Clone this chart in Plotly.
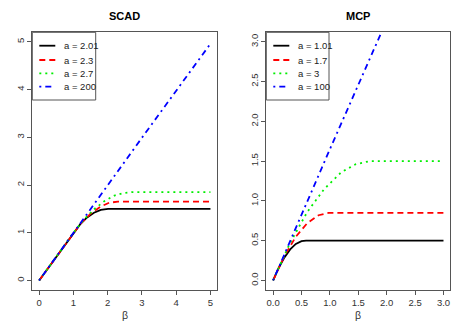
import plotly.graph_objects as go

# SCAD panel
scad_labels = ["a = 2.01", "a = 2.3", "a = 2.7", "a = 200"]
scad_x = [
    [0, 1.0, 1.2, 1.4, 1.6, 1.8, 2.01, 5],
    [0, 1.0, 1.2, 1.5, 1.8, 2.05, 2.3, 5],
    [0, 1.0, 1.3, 1.6, 1.9, 2.2, 2.45, 2.7, 5],
    [0, 1.0, 3.0, 5],
]
scad_y = [
    [0, 1.0, 1.18, 1.32, 1.42, 1.48, 1.5, 1.5],
    [0, 1.0, 1.18, 1.4, 1.55, 1.63, 1.65, 1.65],
    [0, 1.0, 1.27, 1.49, 1.66, 1.78, 1.83, 1.85, 1.85],
    [0, 1.0, 2.99, 4.96],
]

# MCP panel
mcp_labels = ["a = 1.01", "a = 1.7", "a = 3", "a = 100"]
mcp_x = [
    [0, 0.1, 0.2, 0.3, 0.4, 0.5, 0.58, 3],
    [0, 0.2, 0.4, 0.6, 0.8, 0.98, 3],
    [0, 0.3, 0.6, 0.9, 1.2, 1.45, 1.7, 3],
    [0, 1.0, 2.0, 3.0],
]
mcp_y = [
    [0, 0.16, 0.29, 0.39, 0.46, 0.495, 0.5, 0.5],
    [0, 0.31, 0.55, 0.72, 0.82, 0.85, 0.85],
    [0, 0.475, 0.86, 1.15, 1.36, 1.46, 1.5, 1.5],
    [0, 1.65, 3.27, 4.87],
]

colors = ["black", "red", "#00ee00", "blue"]
dashes = ["solid", "6px,4px", "2px,4px", "2px,4px,6px,4px"]

FONT = "Liberation Sans, Arial, sans-serif"
W, H = 467, 331


def px(x):
    return x / W


def py(y):
    return 1 - y / H


fig = go.Figure()
for i in range(4):
    fig.add_trace(go.Scatter(x=scad_x[i], y=scad_y[i], mode="lines", name=scad_labels[i],
                             line=dict(color=colors[i], width=1.8, dash=dashes[i]),
                             xaxis="x", yaxis="y"))
for i in range(4):
    fig.add_trace(go.Scatter(x=mcp_x[i], y=mcp_y[i], mode="lines", name=mcp_labels[i],
                             line=dict(color=colors[i], width=1.8, dash=dashes[i]),
                             xaxis="x2", yaxis="y2"))

ax = dict(showgrid=False, zeroline=False, showline=True, mirror=True, linecolor="#555",
          linewidth=1, ticks="outside", ticklen=4, tickcolor="#555",
          tickfont=dict(family=FONT, size=9.5, color="#333"))

shapes = []
annotations = []
# hand-drawn legends in the top-left corner of each panel, R style
for left, right, labels in [(32.3, 95.7, scad_labels), (266.3, 329, mcp_labels)]:
    shapes.append(dict(type="rect", xref="paper", yref="paper", x0=px(left), x1=px(right),
                       y0=py(100), y1=py(32.3), line=dict(color="#555", width=1),
                       fillcolor="white", layer="above"))
    for i, lab in enumerate(labels):
        yy = [45.7, 60, 73.3, 86.7][i]
        shapes.append(dict(type="line", xref="paper", yref="paper", x0=px(left + 7),
                           x1=px(left + 23), y0=py(yy), y1=py(yy), layer="above",
                           line=dict(color=colors[i], width=1.8, dash=dashes[i])))
        annotations.append(dict(text=lab, x=px(left + 29.5), y=py(yy), xref="paper",
                                yref="paper", xanchor="left", yanchor="middle",
                                showarrow=False,
                                font=dict(size=9.5, family=FONT, color="#222")))

for cx, title in [(124.8, "SCAD"), (358.3, "MCP")]:
    annotations.append(dict(text="<b>%s</b>" % title, x=px(cx), y=py(16), xref="paper",
                            yref="paper", xanchor="center", yanchor="middle",
                            showarrow=False, font=dict(size=11, family=FONT, color="black")))
    annotations.append(dict(text="β", x=px(cx), y=py(315), xref="paper", yref="paper",
                            xanchor="center", yanchor="middle", showarrow=False,
                            font=dict(size=10.5, family=FONT, color="#333")))

fig.update_layout(
    width=W, height=H,
    margin=dict(l=0, r=0, t=0, b=0),
    paper_bgcolor="white", plot_bgcolor="white",
    font=dict(family=FONT, color="#222"),
    showlegend=False,
    xaxis=dict(ax, domain=[px(32.3), px(217.3)], range=[-0.2, 5.2],
               tickvals=[0, 1, 2, 3, 4, 5], anchor="y"),
    yaxis=dict(ax, domain=[py(290), py(32.3)], range=[-0.2, 5.2],
               tickvals=[0, 1, 2, 3, 4, 5], tickangle=-90, anchor="x"),
    xaxis2=dict(ax, domain=[px(266.3), px(450.3)], range=[-0.12, 3.12],
                tickvals=[0, 0.5, 1, 1.5, 2, 2.5, 3], tickformat=".1f", anchor="y2"),
    yaxis2=dict(ax, domain=[py(290), py(32.3)], range=[-0.12, 3.12],
                tickvals=[0, 0.5, 1, 1.5, 2, 2.5, 3], tickformat=".1f", tickangle=-90,
                anchor="x2"),
    shapes=shapes,
    annotations=annotations,
)

fig.write_html("out.html", config={"displayModeBar": False},
               post_script="document.body.style.margin='0';")
